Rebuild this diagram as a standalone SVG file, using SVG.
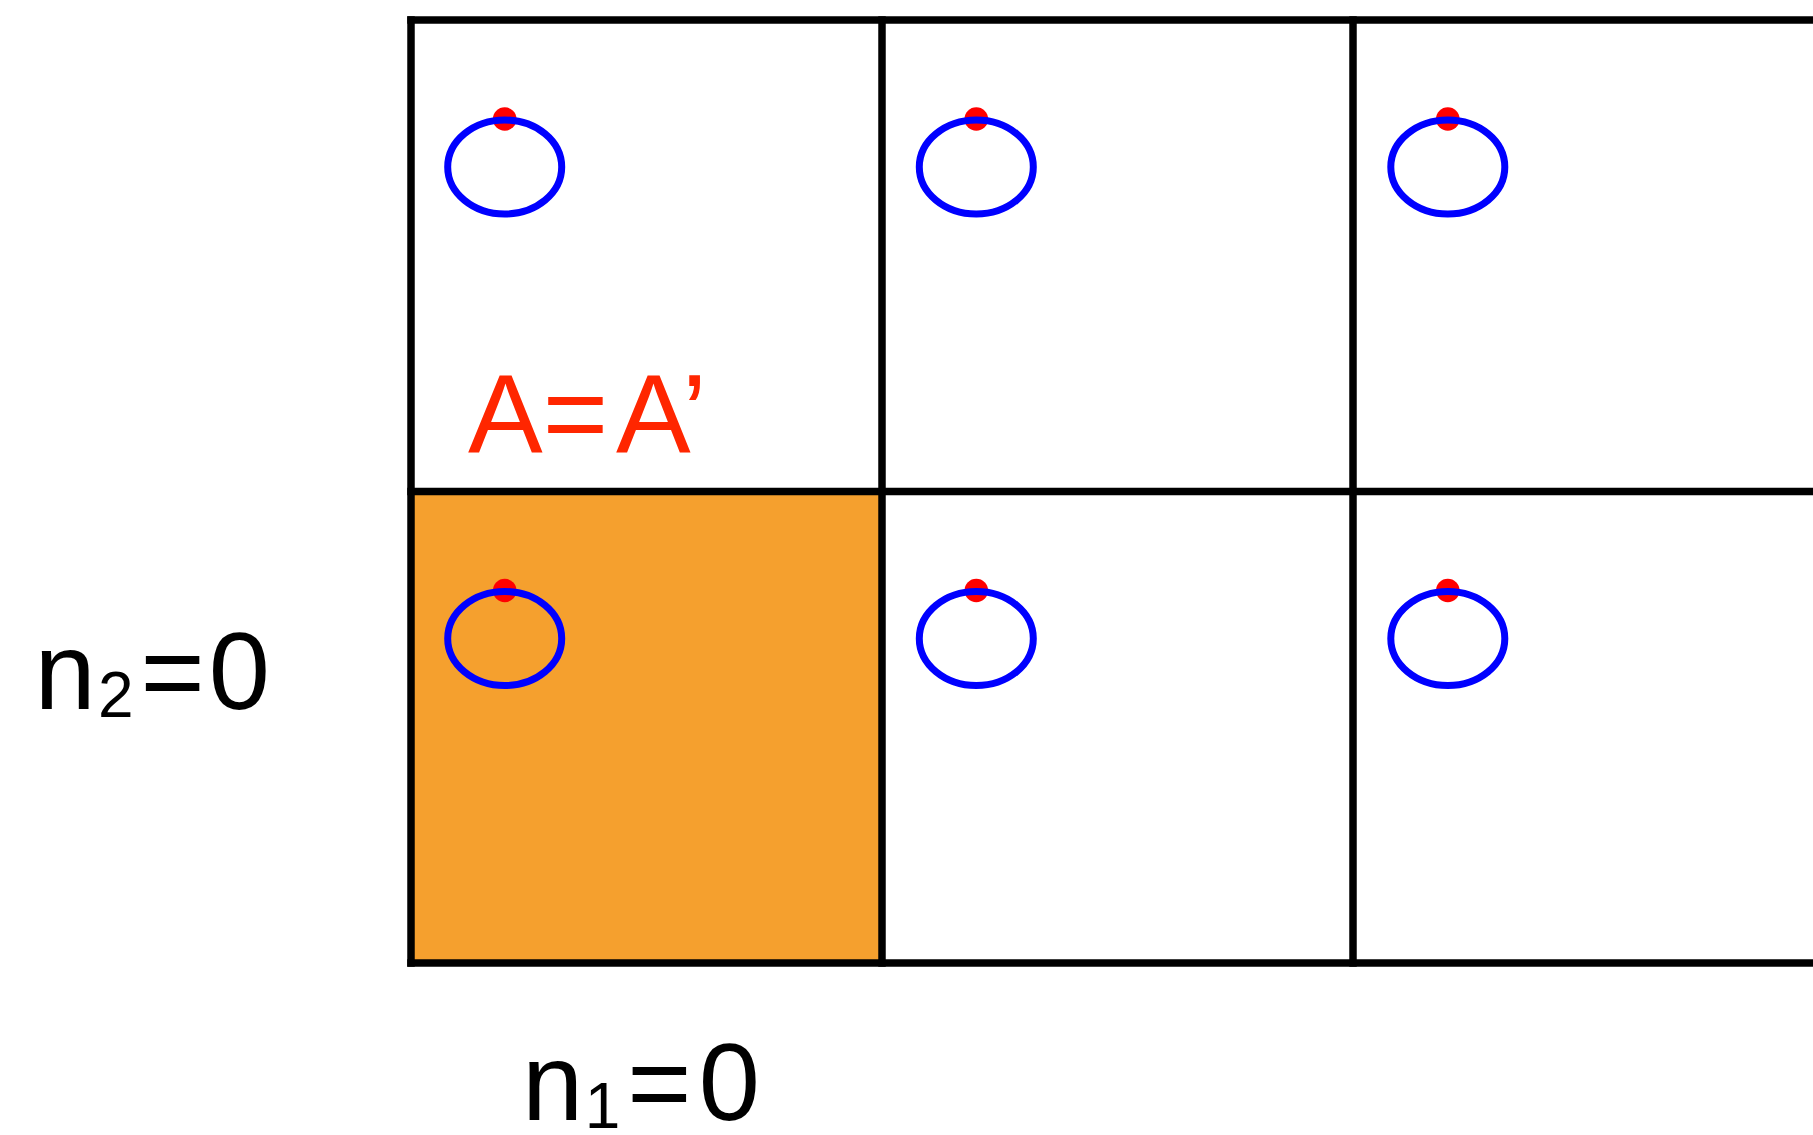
<svg xmlns="http://www.w3.org/2000/svg" width="1813" height="1135" viewBox="0 0 1813 1135">
<style>
.grid{stroke:#000;stroke-width:7.5;fill:none;stroke-linecap:square}
.orbit{fill:none;stroke:#0000FF;stroke-width:7}
.dot{fill:#FF0000}
.lbl{font-family:"Liberation Sans",Arial,Helvetica,sans-serif;fill:#000}
.red{font-family:"Liberation Sans",Arial,Helvetica,sans-serif;fill:#FF2600}
</style>
<defs>
<g id="cellmark">
<circle class="dot" cx="0" cy="-48" r="11.8"/>
<ellipse class="orbit" cx="0" cy="0" rx="57" ry="47"/>
</g>
</defs>
<rect width="1813" height="1135" fill="#fff"/>
<g id="cell-highlight">
<rect x="411" y="491.5" width="471" height="471.5" fill="#F5A02E"/>
</g>
<g id="cells">
<g id="cell-0-1"><use href="#cellmark" x="504.7" y="167"/></g>
<g id="cell-1-1"><use href="#cellmark" x="976.3" y="167"/></g>
<g id="cell-2-1"><use href="#cellmark" x="1447.8" y="167"/></g>
<g id="cell-0-0"><use href="#cellmark" x="504.7" y="638.5"/></g>
<g id="cell-1-0"><use href="#cellmark" x="976.3" y="638.5"/></g>
<g id="cell-2-0"><use href="#cellmark" x="1447.8" y="638.5"/></g>
</g>
<g id="grid" class="grid">
<line x1="411" y1="20" x2="1813" y2="20"/>
<line x1="411" y1="491.5" x2="1813" y2="491.5"/>
<line x1="411" y1="963" x2="1813" y2="963"/>
<line x1="411" y1="20" x2="411" y2="963"/>
<line x1="882" y1="20" x2="882" y2="963"/>
<line x1="1353" y1="20" x2="1353" y2="963"/>
</g>
<g id="labels">
<text class="red" font-size="112" x="468 542.7 616 682" y="451.7">A=A’</text>
<text class="lbl" font-size="110" y="709.3"><tspan x="34.4">n</tspan><tspan x="98" y="717.3" font-size="64">2</tspan><tspan x="140.5" y="709.3">=</tspan><tspan x="208.7" y="709.3">0</tspan></text>
<text class="lbl" font-size="110" y="1120"><tspan x="522">n</tspan><tspan x="584.7" y="1128.3" font-size="64">1</tspan><tspan x="627.3" y="1120">=</tspan><tspan x="698.7" y="1120">0</tspan></text>
</g>
</svg>
